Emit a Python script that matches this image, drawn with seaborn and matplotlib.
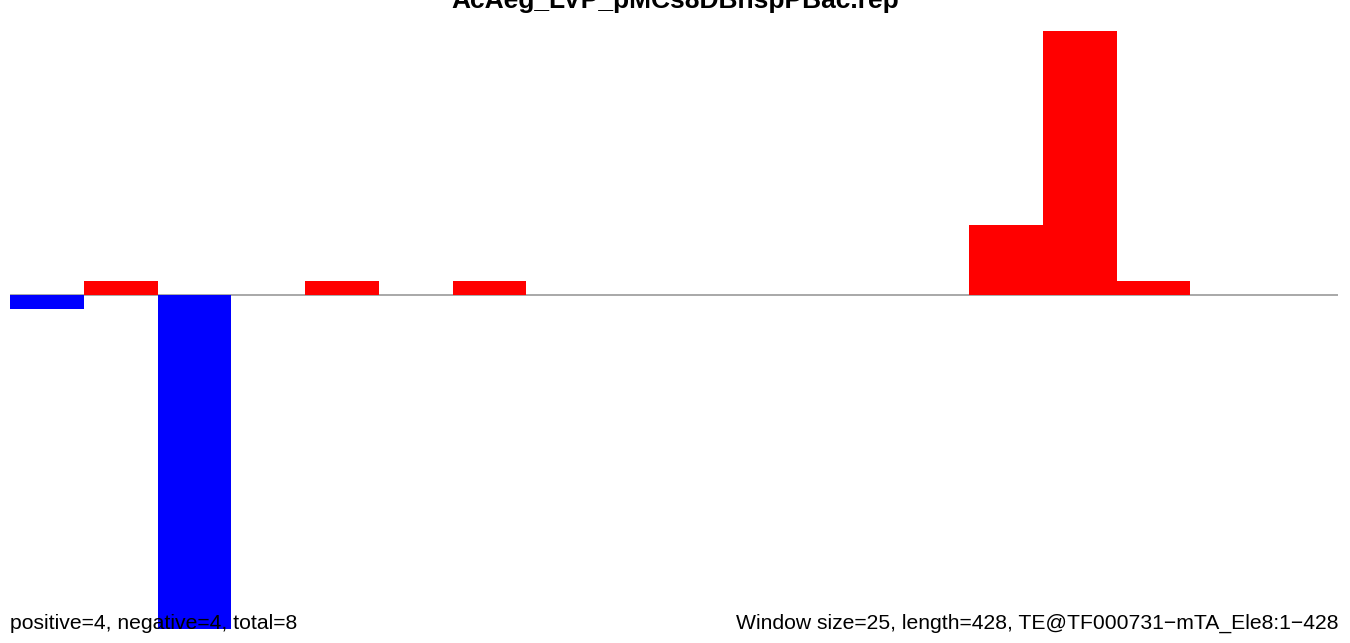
import matplotlib
matplotlib.use("Agg")
import matplotlib.pyplot as plt
import seaborn as sns
import pandas as pd
import numpy as np

# --- Data (per 25-bp window) ---
windows = list(range(18))
positive = [0, 1, 0, 0, 1, 0, 1, 0, 0, 0, 0, 0, 0, 5, 19, 1, 0, 0]
negative = [-1, 0, -24, 0, 0, 0, 0, 0, 0, 0, 0, 0, 0, 0, 0, 0, 0, 0]

title = "AcAeg_LVP_pMCs8DBnspPBac.rep"
left_note = "positive=4, negative=4, total=8"
right_note = "Window size=25, length=428, TE@TF000731\u2212mTA_Ele8:1\u2212428"

sns.set_style("white")
plt.rcParams['font.family'] = ['Liberation Sans', 'DejaVu Sans']

df = pd.DataFrame({"window": windows, "pos": positive, "neg": negative})

fig = plt.figure(figsize=(13.5, 6.43), dpi=100)
ax = fig.add_axes([10 / 1350, 0, 1328 / 1350, 1])

sns.barplot(data=df, x="window", y="pos", color="#ff0000", width=1.0,
            saturation=1, linewidth=0, ax=ax)
sns.barplot(data=df, x="window", y="neg", color="#0000ff", width=1.0,
            saturation=1, linewidth=0, ax=ax)

ax.axhline(0, color="#999999", linewidth=1.2, zorder=0.5)
ax.set_xlim(-0.5, len(windows) - 0.5)
ax.set_ylim(-25.0, 21.2)
ax.axis("off")

fig.text(0.5, 1 - 8 / 643, title, ha="center", va="baseline",
         fontsize=19, fontweight="bold", color="black")
fig.text(10 / 1350, 1 - 629 / 643, left_note, ha="left", va="baseline",
         fontsize=15.2, color="black", zorder=10)
fig.text(1338 / 1350, 1 - 629 / 643, right_note, ha="right", va="baseline",
         fontsize=15.2, color="black", zorder=10)

fig.savefig("out.png", dpi=100)
